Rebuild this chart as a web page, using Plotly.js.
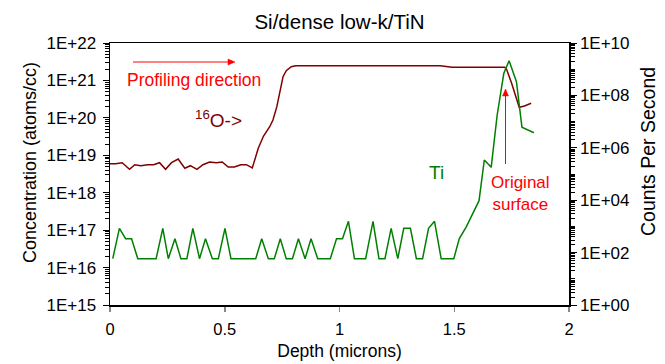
<!DOCTYPE html>
<html>
<head>
<meta charset="utf-8">
<script src="https://cdn.plot.ly/plotly-3.0.1.min.js"></script>
<style>html,body{margin:0;padding:0;background:#fff;}#chart{width:665px;height:364px;}</style>
</head>
<body>
<div id="chart"></div>
<script>
// ---- data ----
const chartTitle = 'Si/dense low-k/TiN';
const xTitle = 'Depth (microns)';
const yTitle = 'Concentration (atoms/cc)';
const y2Title = 'Counts Per Second';

const xTickVals = [0, 0.5, 1, 1.5, 2];
const xTickText = ['0', '0.5', '1', '1.5', '2'];
const yTickVals = [1e15, 1e16, 1e17, 1e18, 1e19, 1e20, 1e21, 1e22];
const yTickText = ['1E+15', '1E+16', '1E+17', '1E+18', '1E+19', '1E+20', '1E+21', '1E+22'];
const y2TickVals = [1, 1e2, 1e4, 1e6, 1e8, 1e10];
const y2TickText = ['1E+00', '1E+02', '1E+04', '1E+06', '1E+08', '1E+10'];

// 16O concentration (atoms/cc), left axis
const oDepth = [0.000, 0.024, 0.053, 0.085, 0.108, 0.134, 0.164, 0.190, 0.216, 0.242,
  0.268, 0.297, 0.326, 0.350, 0.379, 0.405, 0.434, 0.463, 0.489, 0.515,
  0.542, 0.570, 0.594, 0.620, 0.646, 0.669, 0.696, 0.710, 0.727, 0.754,
  0.768, 0.790, 0.809, 1.000, 1.200, 1.440, 1.490, 1.720, 1.728, 1.750,
  1.783, 1.806, 1.835];
const oConc = [5.96e18, 5.96e18, 6.34e18, 4.22e18, 5.60e18, 5.27e18, 5.60e18, 5.60e18, 6.34e18, 4.22e18,
  6.34e18, 7.96e18, 4.49e18, 5.27e18, 4.22e18, 5.60e18, 6.61e18, 6.34e18, 6.61e18, 4.86e18,
  4.86e18, 5.60e18, 5.60e18, 4.57e18, 1.54e19, 3.27e19, 5.80e19, 8.77e19, 1.99e20, 1.26e21,
  1.82e21, 2.33e21, 2.47e21, 2.47e21, 2.47e21, 2.47e21, 2.24e21, 2.24e21, 1.98e21, 8.38e20,
  1.91e20, 2.07e20, 2.45e20];

// Ti counts per second, right axis
const tiDepth = [0.012, 0.041, 0.068, 0.094, 0.121, 0.148, 0.174, 0.201, 0.230, 0.254,
  0.283, 0.309, 0.335, 0.361, 0.390, 0.416, 0.446, 0.472, 0.501, 0.527,
  0.554, 0.580, 0.607, 0.635, 0.661, 0.690, 0.716, 0.742, 0.768, 0.795,
  0.821, 0.850, 0.876, 0.905, 0.933, 0.960, 0.987, 1.013, 1.039, 1.065,
  1.090, 1.114, 1.146, 1.172, 1.198, 1.225, 1.254, 1.280, 1.309, 1.335,
  1.362, 1.388, 1.414, 1.443, 1.470, 1.498, 1.522, 1.553, 1.608, 1.631,
  1.661, 1.687, 1.716, 1.739, 1.771, 1.795, 1.847];
const tiCounts = [58.5, 846, 339, 339, 58.5, 58.5, 58.5, 58.5, 846, 58.5,
  339, 58.5, 58.5, 846, 58.5, 339, 58.5, 58.5, 846, 58.5,
  58.5, 58.5, 58.5, 58.5, 339, 58.5, 58.5, 339, 58.5, 58.5,
  339, 58.5, 339, 58.5, 58.5, 58.5, 339, 339, 1566, 58.5,
  58.5, 58.5, 1566, 58.5, 58.5, 846, 58.5, 846, 846, 58.5,
  58.5, 846, 1566, 58.5, 58.5, 58.5, 345, 974, 9570, 3.42e5,
  1.80e5, 1.79e7, 6.98e8, 2.11e9, 3.33e8, 6.06e6, 3.77e6];

// ---- chart ----
const FONT = 'Liberation Sans, Arial, sans-serif';

// minor tick positions on the log axes (2..9 x 10^n)
function minorVals(n0, n1, withOddDecades) {
  const v = [];
  for (let n = n0; n < n1; n++) {
    if (withOddDecades && n % 2 === 1) v.push(Math.pow(10, n));
    for (let k = 2; k <= 9; k++) v.push(k * Math.pow(10, n));
  }
  return v;
}

const traces = [
  {x: oDepth, y: oConc, type: 'scatter', mode: 'lines', yaxis: 'y',
   line: {color: '#800000', width: 1.5}, name: '16O', hoverinfo: 'x+y'},
  {x: tiDepth, y: tiCounts, type: 'scatter', mode: 'lines', yaxis: 'y2',
   line: {color: '#008000', width: 1.5}, name: 'Ti', hoverinfo: 'x+y'}
];

// plot area in pixels, used to place the hand-drawn arrows and labels
const L = 110, T = 43, W = 665 - 110 - 96, H = 364 - 43 - 59;
const px = v => (v - L) / W;
const py = v => (T + H - v) / H;

function arrowShapes(x0, y0, x1, y1) {
  const dx = x1 - x0, dy = y1 - y0, len = Math.hypot(dx, dy);
  const ux = dx / len, uy = dy / len, hl = 7, hw = 3;
  const bx = x1 - ux * hl, by = y1 - uy * hl;
  const p1 = [bx - uy * hw, by + ux * hw], p2 = [bx + uy * hw, by - ux * hw];
  return [
    {type: 'line', xref: 'paper', yref: 'paper', x0: px(x0), y0: py(y0), x1: px(bx), y1: py(by),
     line: {color: '#ff0000', width: 1}},
    {type: 'path', xref: 'paper', yref: 'paper',
     path: `M ${px(x1)} ${py(y1)} L ${px(p1[0])} ${py(p1[1])} L ${px(p2[0])} ${py(p2[1])} Z`,
     fillcolor: '#ff0000', line: {color: '#ff0000', width: 0.5}}
  ];
}

const layout = {
  width: 665, height: 364,
  margin: {l: L, r: 96, t: T, b: 59, pad: 0},
  paper_bgcolor: '#ffffff', plot_bgcolor: '#ffffff',
  showlegend: false,
  font: {family: FONT, color: '#000', size: 16},
  title: {text: chartTitle, font: {family: FONT, size: 20.5, color: '#000'},
          x: 0.5, xref: 'paper', y: 1 - 22 / 364, yref: 'container', yanchor: 'middle'},
  xaxis: {
    range: [0, 2], tickmode: 'array', tickvals: xTickVals, ticktext: xTickText,
    ticks: 'outside', ticklen: 5, tickcolor: '#888', tickwidth: 1.5,
    showline: true, linecolor: '#000', linewidth: 1.5, mirror: true,
    showgrid: false, zeroline: false, ticklabelstandoff: 4,
    tickfont: {family: FONT, size: 16.5, color: '#000'},
    title: {text: xTitle, font: {family: FONT, size: 17.5, color: '#000'}, standoff: 7}
  },
  yaxis: {
    type: 'log', range: [15, 22], tickmode: 'array', tickvals: yTickVals, ticktext: yTickText,
    ticks: 'outside', ticklen: 6, tickcolor: '#000', tickwidth: 1,
    minor: {ticks: 'outside', ticklen: 4, tickcolor: '#000', tickwidth: 1,
            tickmode: 'array', tickvals: minorVals(15, 22, false), showgrid: false},
    showline: true, linecolor: '#000', linewidth: 1.5,
    showgrid: false, zeroline: false, ticklabelstandoff: 3,
    tickfont: {family: FONT, size: 17, color: '#000'}
  },
  yaxis2: {
    type: 'log', range: [0, 10], overlaying: 'y', side: 'right',
    tickmode: 'array', tickvals: y2TickVals, ticktext: y2TickText,
    ticks: 'outside', ticklen: 6, tickcolor: '#000', tickwidth: 1,
    minor: {ticks: 'outside', ticklen: 4, tickcolor: '#000', tickwidth: 1,
            tickmode: 'array', tickvals: minorVals(0, 10, true), showgrid: false},
    showline: true, linecolor: '#000', linewidth: 1.5,
    showgrid: false, zeroline: false, ticklabelstandoff: 0,
    tickfont: {family: FONT, size: 17, color: '#000'}
  },
  shapes: [
    ...arrowShapes(133, 62, 235, 62),
    ...arrowShapes(505.5, 164, 505.5, 89)
  ],
  annotations: [
    // axis titles (placed where the reference has them)
    {text: yTitle, xref: 'paper', yref: 'paper', x: px(30), y: py(163), textangle: -90,
     xanchor: 'center', yanchor: 'middle', showarrow: false,
     font: {family: FONT, size: 18, color: '#000'}},
    {text: y2Title, xref: 'paper', yref: 'paper', x: px(648), y: py(152), textangle: -90,
     xanchor: 'center', yanchor: 'middle', showarrow: false,
     font: {family: FONT, size: 19.5, color: '#000'}},
    {text: 'Profiling direction', xref: 'paper', yref: 'paper', x: px(125), y: py(80),
     xanchor: 'left', yanchor: 'middle', showarrow: false,
     font: {family: FONT, size: 17.5, color: '#ff0000'}},
    {text: '<sup>16</sup>O->', xref: 'paper', yref: 'paper', x: px(218), y: py(119),
     xanchor: 'center', yanchor: 'middle', showarrow: false,
     font: {family: FONT, size: 19, color: '#800000'}},
    {text: 'Ti', xref: 'paper', yref: 'paper', x: px(436), y: py(172),
     xanchor: 'center', yanchor: 'middle', showarrow: false,
     font: {family: FONT, size: 19, color: '#008000'}},
    {text: 'Original<br>surface', xref: 'paper', yref: 'paper', x: px(520), y: py(193.5),
     xanchor: 'center', yanchor: 'middle', showarrow: false,
     font: {family: FONT, size: 17, color: '#ff0000'}}
  ]
};

Plotly.newPlot('chart', traces, layout, {displayModeBar: false, staticPlot: true});
</script>
</body>
</html>
